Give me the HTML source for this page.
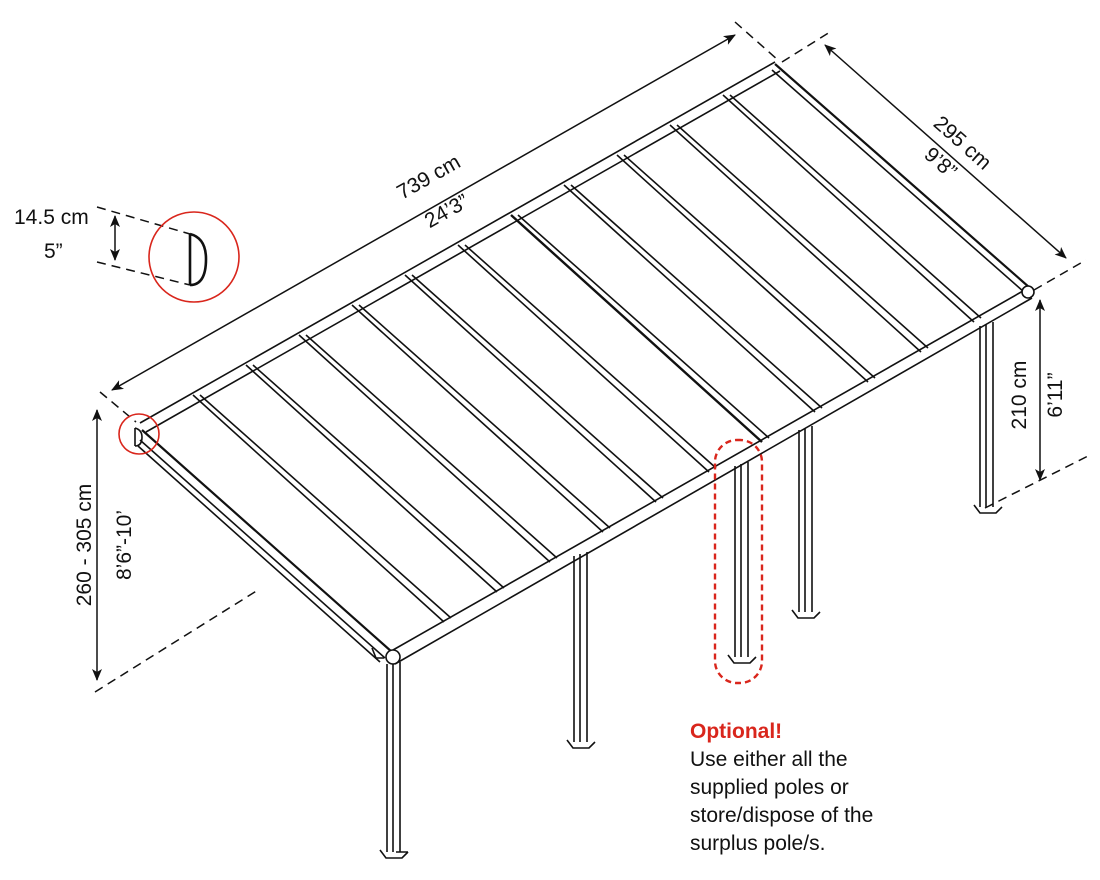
<!DOCTYPE html>
<html><head><meta charset="utf-8"><style>
body{margin:0;background:#fff}
svg{display:block}
text{font-family:"Liberation Sans",sans-serif;font-size:21px;fill:#111}
</style></head><body>
<svg width="1100" height="880" viewBox="0 0 1100 880" xmlns="http://www.w3.org/2000/svg">
<defs>
<marker id="a" markerWidth="12" markerHeight="10" refX="11" refY="5" orient="auto-start-reverse" markerUnits="userSpaceOnUse">
<path d="M0,0 L12,5 L0,10 L3,5 Z" fill="#111"/></marker>
</defs>
<g stroke="#111" fill="none" stroke-width="1.6">
<!-- back rail -->
<line x1="140" y1="423" x2="775" y2="62"/>
<line x1="146" y1="432" x2="780" y2="71"/>
<!-- right edge -->
<line x1="775" y1="64" x2="1030" y2="288" stroke-width="2.2"/>
<line x1="772" y1="70" x2="1024" y2="292"/>
<!-- left edge -->
<line x1="142" y1="430" x2="392" y2="652" stroke-width="2.2"/>
<line x1="140" y1="440" x2="385" y2="658"/>
<line x1="138" y1="446" x2="380" y2="662"/>
<!-- front beam -->
<line x1="1030" y1="287" x2="393" y2="650"/>
<line x1="1032" y1="298" x2="395" y2="664"/>
<circle cx="1028" cy="292" r="6" fill="#fff"/>
<circle cx="393" cy="657" r="7" fill="#fff"/>
<!-- rafters -->
<g id="r">
<line x1="193" y1="395" x2="444" y2="622"/><line x1="200" y1="395" x2="451" y2="618"/>
<line x1="246" y1="365" x2="497" y2="592"/><line x1="253" y1="365" x2="504" y2="588"/>
<line x1="299" y1="335" x2="550" y2="562"/><line x1="306" y1="335" x2="557" y2="558"/>
<line x1="352" y1="305" x2="603" y2="532"/><line x1="359" y1="305" x2="610" y2="528"/>
<line x1="405" y1="275" x2="656" y2="502"/><line x1="412" y1="275" x2="663" y2="498"/>
<line x1="458" y1="245" x2="709" y2="472"/><line x1="465" y1="245" x2="716" y2="468"/>
<line x1="511" y1="215" x2="762" y2="442" stroke-width="2.4"/><line x1="518" y1="215" x2="769" y2="438"/>
<line x1="564" y1="185" x2="815" y2="412"/><line x1="571" y1="185" x2="822" y2="408"/>
<line x1="617" y1="155" x2="868" y2="382"/><line x1="624" y1="155" x2="875" y2="378"/>
<line x1="670" y1="125" x2="921" y2="352"/><line x1="677" y1="125" x2="928" y2="348"/>
<line x1="723" y1="95" x2="974" y2="322"/><line x1="730" y1="95" x2="981" y2="318"/>
</g>
<!-- posts -->
<path d="M387,664 V852 M393,664 V852 M400,662 V852 M380,850 l6,8 h16 l6,-6 M396,852 h12"/>
<path d="M574,556 V742 M580,554 V742 M587,552 V742 M567,740 l6,8 h16 l6,-6"/>
<path d="M735,466 V657 M741,464 V657 M748,462 V657 M728,655 l6,8 h16 l6,-6"/>
<path d="M799,430 V612 M805,428 V612 M812,426 V612 M792,610 l6,8 h16 l6,-6"/>
<path d="M980,326 V507 M986,324 V507 M993,322 V507 M974,505 l6,8 h16 l6,-6"/>
<path d="M372,648 l4,10 h8"/>
<!-- profile D -->
<path d="M190,234 V285 M190,234 q16,4 16,25 q0,26 -16,26" stroke-width="2.6"/>
<path d="M135,428 V446 M135,428 q7,2 7,9 q0,9 -7,9" stroke-width="1.6"/>
</g>
<!-- dimension lines -->
<g stroke="#111" stroke-width="1.5" fill="none">
<line x1="112" y1="390" x2="735" y2="35" marker-start="url(#a)" marker-end="url(#a)"/>
<line x1="825" y1="45" x2="1066" y2="258" marker-start="url(#a)" marker-end="url(#a)"/>
<line x1="1040" y1="300" x2="1040" y2="480" marker-start="url(#a)" marker-end="url(#a)"/>
<line x1="97" y1="410" x2="97" y2="680" marker-start="url(#a)" marker-end="url(#a)"/>
<line x1="115" y1="216" x2="115" y2="260" marker-start="url(#a)" marker-end="url(#a)"/>
<g stroke-dasharray="9,6">
<line x1="100" y1="392" x2="136" y2="422"/>
<line x1="735" y1="22" x2="778" y2="60"/>
<line x1="782" y1="62" x2="830" y2="32"/>
<line x1="1034" y1="290" x2="1086" y2="260"/>
<line x1="985" y1="508" x2="1090" y2="455"/>
<line x1="95" y1="692" x2="258" y2="590"/>
<line x1="97" y1="207" x2="190" y2="234"/>
<line x1="97" y1="262" x2="190" y2="285"/>
</g>
</g>
<!-- red -->
<g stroke="#d9261c" fill="none" stroke-width="1.6">
<circle cx="194" cy="257" r="45"/>
<circle cx="139" cy="434" r="20"/>
<rect x="715" y="440" width="47" height="243" rx="22" stroke-dasharray="6,4" stroke-width="2.4"/>
</g>
<!-- labels -->
<text transform="translate(432,183) rotate(-29.5)" text-anchor="middle">739 cm</text>
<text transform="translate(450,217) rotate(-29.5)" text-anchor="middle">24’3”</text>
<text transform="translate(958,148) rotate(41.5)" text-anchor="middle">295 cm</text>
<text transform="translate(936,168) rotate(41.5)" text-anchor="middle">9’8”</text>
<text transform="translate(1026,395) rotate(-90)" text-anchor="middle">210 cm</text>
<text transform="translate(1062,395) rotate(-90)" text-anchor="middle">6’11”</text>
<text transform="translate(91,545) rotate(-90)" text-anchor="middle">260 - 305 cm</text>
<text transform="translate(131,545) rotate(-90)" text-anchor="middle">8’6”-10’</text>
<text x="14" y="224">14.5 cm</text>
<text x="44" y="258">5”</text>
<text x="690" y="738" style="fill:#d9261c;font-weight:bold">Optional!</text>
<text x="690" y="766">Use either all the</text>
<text x="690" y="794">supplied poles or</text>
<text x="690" y="822">store/dispose of the</text>
<text x="690" y="850">surplus pole/s.</text>
</svg>
</body></html>
